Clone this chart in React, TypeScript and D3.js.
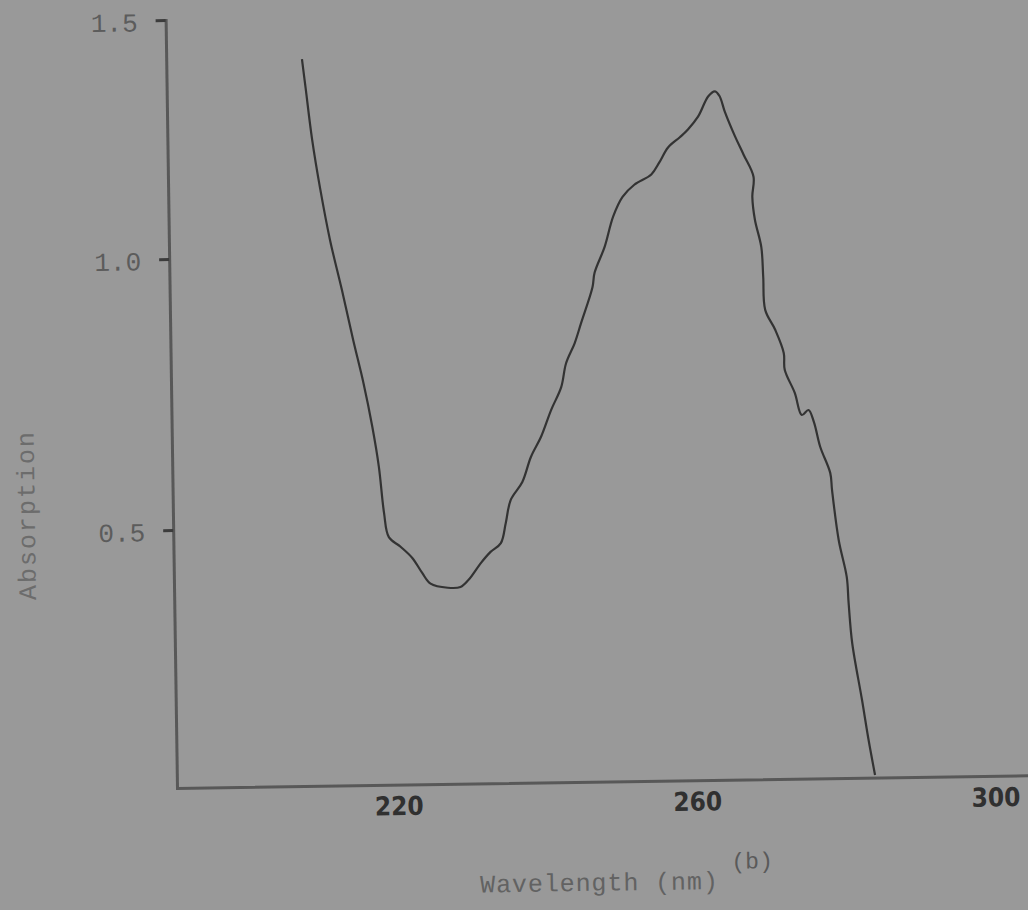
import { useEffect, useRef } from "react";
import * as d3 from "d3";

const WIDTH = 1028;
const HEIGHT = 910;

// Absorption spectrum, wavelength in nm
const wavelengthNm = [
  208.5, 208.95, 209.7, 210.7, 211.9, 213.4, 214.8, 216.1, 217.2, 218.0,
  218.6, 219.2, 220.75, 222.3, 223.6, 224.7, 227.0, 228.7, 229.8, 231.5,
  232.8, 234.2, 234.9, 235.6, 237.2, 238.4, 239.8, 241.2, 242.6, 243.3,
  244.5, 245.4, 247.0, 247.3, 248.7, 249.9, 251.2, 252.8, 255.1, 256.2,
  257.4, 259.0, 260.1, 261.5, 262.9, 263.8, 264.4, 265.1, 266.4, 267.5,
  268.8, 268.6, 268.9, 269.7, 269.9, 270.1, 271.4, 272.5, 272.6, 273.9,
  274.8, 275.7, 276.4, 277.2, 278.5, 278.7, 279.5, 280.5, 280.7, 281.1,
  282.3, 283.1, 283.9,
];
const absorption = [
  1.414, 1.351, 1.246, 1.141, 1.035, 0.938, 0.846, 0.766, 0.685, 0.611,
  0.526, 0.481, 0.463, 0.442, 0.414, 0.394, 0.386, 0.387, 0.4, 0.431,
  0.451, 0.467, 0.504, 0.546, 0.579, 0.625, 0.662, 0.711, 0.753, 0.797,
  0.834, 0.871, 0.937, 0.963, 1.012, 1.075, 1.116, 1.141, 1.162, 1.187,
  1.218, 1.239, 1.255, 1.282, 1.324, 1.334, 1.324, 1.29, 1.239, 1.201,
  1.154, 1.112, 1.064, 1.007, 0.951, 0.89, 0.853, 0.81, 0.779, 0.736,
  0.695, 0.704, 0.682, 0.636, 0.587, 0.556, 0.463, 0.395, 0.347, 0.273,
  0.168, 0.094, 0.029,
];

const xTicks = [220, 260, 300];
const yTicks = [0.5, 1.0, 1.5];
const xDomain = [190.3, 306];
// hand-ruled axis: the tick spacing is not quite even
const yDomain = [0.024, 0.5, 1.0, 1.5];

const xLabel = "Wavelength (nm)";
const yLabel = "Absorption";
const panelLabel = "(b)";

export default function App() {
  const ref = useRef<SVGSVGElement>(null);

  useEffect(() => {
    const svg = d3.select(ref.current);
    svg.selectAll("*").remove();

    svg
      .append("rect")
      .attr("width", WIDTH)
      .attr("height", HEIGHT)
      .attr("fill", "#999999");

    const left = 177;
    const bottom = 788;
    const g = svg
      .append("g")
      .attr("transform", `rotate(-0.85 ${left} ${bottom})`);

    const x = d3.scaleLinear().domain(xDomain).range([left, 1040]);
    const y = d3.scaleLinear().domain(yDomain).range([bottom, 530, 259, 20]);

    // x axis
    const xAxis = g
      .append("g")
      .attr("transform", `translate(0,${y(yDomain[0])})`)
      .call(
        d3
          .axisBottom(x)
          .tickValues(xTicks)
          .tickSize(0)
          .tickSizeOuter(0)
          .tickPadding(12)
          .tickFormat(d3.format("d"))
      );
    xAxis
      .select(".domain")
      .attr("stroke", "#585858")
      .attr("stroke-width", 3)
      .attr("stroke-linecap", "square");
    xAxis
      .selectAll("text")
      .attr("fill", "#303030")
      .attr("font-family", "'DejaVu Sans', sans-serif")
      .attr("font-stretch", "condensed")
      .attr("font-weight", "bold")
      .attr("font-size", 26);

    // y axis
    const yAxis = g
      .append("g")
      .attr("transform", `translate(${x(xDomain[0])},0)`)
      .call(
        d3
          .axisLeft(y)
          .tickValues(yTicks)
          .tickSize(10)
          .tickSizeOuter(0)
          .tickPadding(18)
          .tickFormat(d3.format(".1f"))
      );
    yAxis
      .select(".domain")
      .attr("stroke", "#585858")
      .attr("stroke-width", 3)
      .attr("stroke-linecap", "square");
    yAxis.selectAll(".tick line").attr("stroke", "#3c3c3c").attr("stroke-width", 3);
    yAxis
      .selectAll("text")
      .attr("fill", "#5c5c5c")
      .attr("font-family", "'Liberation Mono', monospace")
      .attr("font-size", 26)
      .attr("dy", "0.4em");

    // spectrum
    const pts: [number, number][] = wavelengthNm.map((w, i) => [w, absorption[i]]);
    const line = d3
      .line<[number, number]>()
      .x((d) => x(d[0]))
      .y((d) => y(d[1]))
      .curve(d3.curveCatmullRom.alpha(0.5));
    g.append("path")
      .datum(pts)
      .attr("d", line)
      .attr("fill", "none")
      .attr("stroke", "#333")
      .attr("stroke-width", 2.2)
      .attr("stroke-linejoin", "round");

    // axis titles
    g.append("text")
      .attr("x", 598)
      .attr("y", 897)
      .attr("text-anchor", "middle")
      .attr("fill", "#626262")
      .attr("font-family", "'Liberation Mono', monospace")
      .attr("font-size", 25)
      .attr("letter-spacing", 0.9)
      .text(xLabel);

    g.append("text")
      .attr("transform", `translate(30,513) rotate(-90)`)
      .attr("text-anchor", "middle")
      .attr("dy", "0.35em")
      .attr("fill", "#6c6c6c")
      .attr("font-family", "'Liberation Mono', monospace")
      .attr("font-size", 25)
      .attr("letter-spacing", 2)
      .text(yLabel);

    g.append("text")
      .attr("x", 751)
      .attr("y", 877)
      .attr("text-anchor", "middle")
      .attr("fill", "#5a5a5a")
      .attr("font-family", "'Liberation Mono', monospace")
      .attr("font-size", 23)
      .text(panelLabel);
  }, []);

  return (
    <svg
      ref={ref}
      width={WIDTH}
      height={HEIGHT}
      style={{ position: "absolute", left: 0, top: 0, display: "block" }}
    />
  );
}
